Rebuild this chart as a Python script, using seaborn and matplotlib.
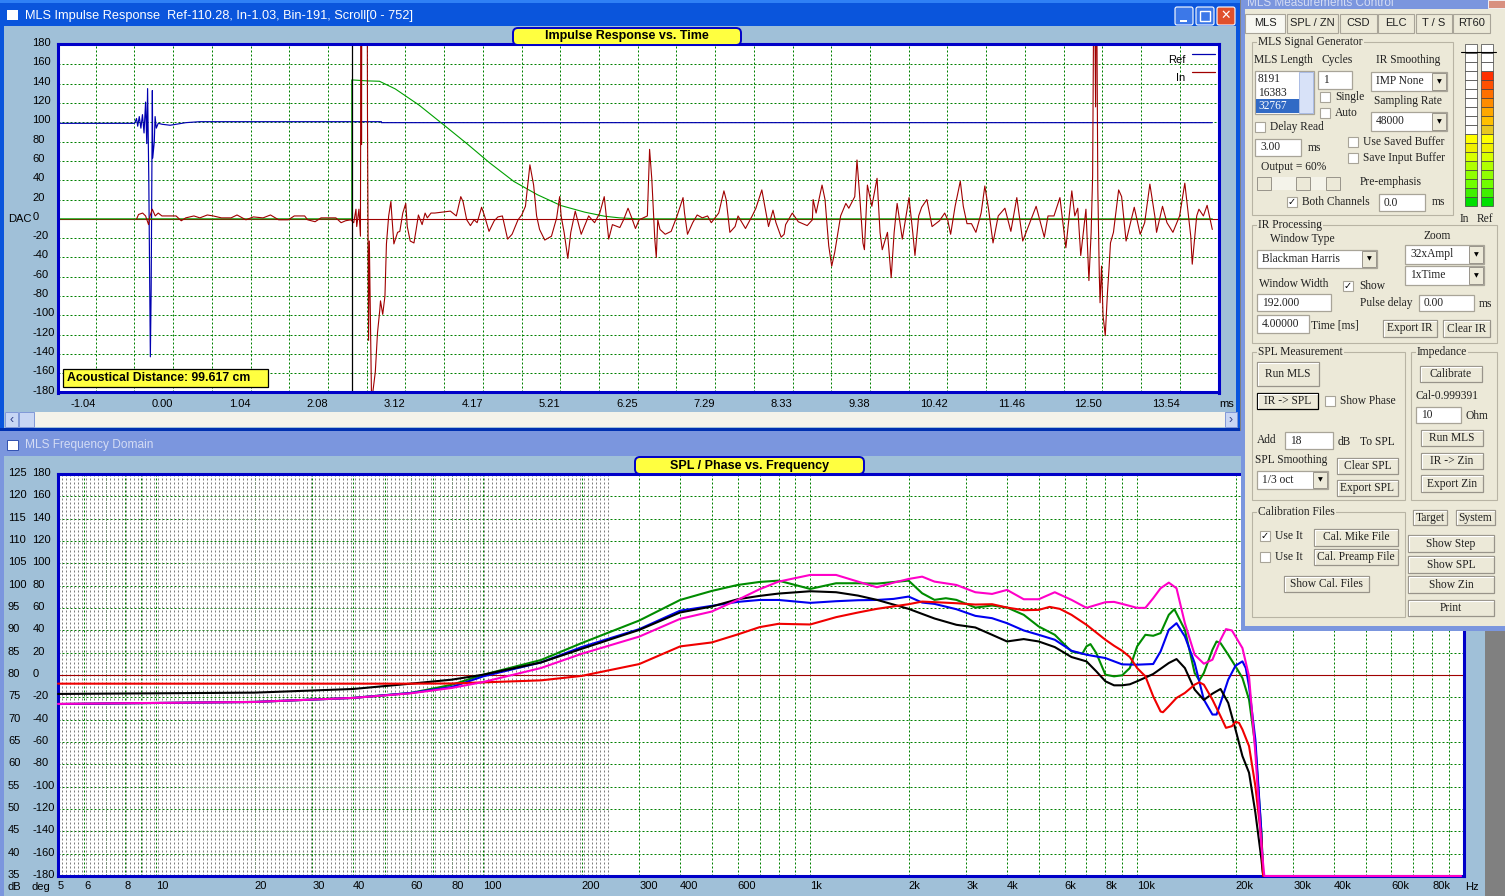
import numpy as np
import matplotlib
matplotlib.use('Agg')
import matplotlib.pyplot as plt
import seaborn as sns
from matplotlib.patches import Rectangle, FancyBboxPatch
from matplotlib.transforms import ScaledTranslation

sns.set_theme(style='white')
plt.rcParams['font.family'] = ['Liberation Sans', 'DejaVu Sans']

# ---- impulse response data (ms, DAC) ----
ref_t = [-1.555, -0.518, -0.492, -0.476, -0.455, -0.433, -0.412, -0.391, -0.370, -0.354, -0.343, -0.327,
         -0.306, -0.295, -0.279, -0.274, -0.253, -0.242, -0.226, -0.200, -0.146, -0.040, 0.172, 0.358,
         2.802, 2.802, 13.98]
ref_v = [99, 99, 104, 96, 106, 94, 108, 89, 121, 78, 135, 42,
         -143, -73, 133, 63, 80, 106, 94, 99, 98, 97, 99.7, 100.7,
         100.7, 99.7, 99.7]

win_t = [-1.555, 2.404, 2.404, 2.606, 2.776, 2.988, 3.307, 3.626, 3.945, 4.264, 4.583, 4.901, 5.22, 5.539,
         5.805, 6.007, 6.25, 13.98]
win_v = [0, 0, 144, 143, 142.6, 134.7, 118, 98.3, 78.4, 57.7, 38.8, 25, 13.7, 6.9,
         2.7, 1, 0, 0]

in_t = [-0.49, -0.465, -0.41, -0.37, -0.33, -0.31, -0.28, -0.24, -0.20, -0.15, -0.04, 0.04, 0.11, 0.17,
        0.28, 0.36, 0.46, 0.54, 0.65, 0.78, 0.86, 0.98, 1.08, 1.21, 1.31, 1.42, 1.55, 1.63, 1.77, 1.81,
        1.91, 1.99, 2.09, 2.19, 2.26, 2.32, 2.39, 2.43, 2.46, 2.47, 2.50, 2.52, 2.53, 2.535, 2.54, 2.61,
        2.615, 2.63, 2.64, 2.67, 2.72, 2.75, 2.78, 2.79, 2.82, 2.85, 2.87, 2.90, 2.93, 2.94, 2.97, 3.02,
        3.05, 3.09, 3.13, 3.15, 3.19, 3.24, 3.27, 3.30, 3.35, 3.39, 3.42, 3.47, 3.52, 3.63, 3.73, 3.81,
        3.87, 3.90, 3.95, 4.00, 4.05, 4.09, 4.15, 4.19, 4.25, 4.32, 4.37, 4.43, 4.50, 4.56, 4.64, 4.69,
        4.74, 4.80, 4.85, 4.89, 4.93, 5.00, 5.09, 5.16, 5.20, 5.22, 5.26, 5.31, 5.35, 5.41, 5.49, 5.59,
        5.67, 5.74, 5.80, 5.86, 5.91, 6.01, 6.06, 6.12, 6.17, 6.22, 6.27, 6.38, 6.41, 6.44, 6.48, 6.50,
        6.52, 6.55, 6.62, 6.70, 6.78, 6.86, 6.88, 6.92, 6.99, 7.05, 7.12, 7.19, 7.24, 7.34, 7.41, 7.44,
        7.49, 7.56, 7.60, 7.70, 7.79, 7.84, 7.92, 7.96, 8.01, 8.07, 8.11, 8.18, 8.22, 8.24, 8.33, 8.41,
        8.53, 8.60, 8.61, 8.65, 8.73, 8.77, 8.82, 8.86, 8.90, 8.98, 9.05, 9.09, 9.17, 9.20, 9.24, 9.28,
        9.30, 9.34, 9.40, 9.47, 9.51, 9.54, 9.61, 9.66, 9.70, 9.74, 9.81, 9.90, 9.95, 9.98, 10.03, 10.07,
        10.14, 10.21, 10.31, 10.38, 10.42, 10.46, 10.52, 10.59, 10.63, 10.68, 10.74, 10.80, 10.87, 10.92,
        10.97, 11.03, 11.10, 11.19, 11.27, 11.35, 11.43, 11.48, 11.61, 11.72, 11.77, 11.85, 11.93, 12.01,
        12.09, 12.13, 12.17, 12.21, 12.28, 12.32, 12.35, 12.37, 12.39, 12.41, 12.42, 12.44, 12.46, 12.47,
        12.49, 12.51, 12.54, 12.57, 12.59, 12.61, 12.65, 12.72, 12.76, 12.82, 12.93, 13.01, 13.07, 13.14,
        13.21, 13.23, 13.31, 13.37, 13.45, 13.54, 13.61, 13.66, 13.69, 13.71, 13.77, 13.80, 13.86, 13.91,
        13.98]
in_v = [0, 4.5, 6, 3, -6, 3, 10, 3, 6, 3, 3, 3, -2, 1,
        3, 1, 4, 3, 1, 1, 4, -1, 2, 1, 4, -1, -1, 3, 3, -1,
        -3, 1, 1, 1, -4, -2, -1, -4, 10, -8, 10, -18, 300, 77, 300, 300,
        106, -126, -23, -190, -159, -118, -95, -85, -99, -80, -26, 3, 18, 6, -26, -14,
        -13, 6, 16, -8, -23, -25, -11, 4, -6, 6, 1, 6, 6, 7, 8, 3,
        23, 18, -1, -7, -1, -4, 12, 3, -13, -2, 2, 3, -21, -16, -1, 4,
        13, 56, 35, 3, -11, -22, -18, 1, 23, 3, -14, -41, -14, 8, -16, 3,
        -4, 6, 23, -21, -6, -9, -1, 11, 1, -10, -1, 3, 72, 41, -21, -40,
        -1, -11, -16, -13, 3, 22, 6, -16, -4, 4, 1, 3, -4, 6, 29, 20,
        -14, -8, 3, -10, 3, 11, 30, 13, -8, 9, -4, -19, -16, -6, 6, -3,
        -7, -1, 20, 6, 35, 20, -28, -49, -35, 3, 16, 11, 23, 61, 20, -25,
        -32, 35, 13, 42, -14, -32, -14, -61, -14, 16, -21, 22, -14, -38, 3, 12,
        20, -8, -2, 6, -1, -16, 13, 39, 13, -5, -5, -14, 6, 34,
        10, -25, 3, 11, -13, 22, -23, -13, 13, -19, 3, 3, 22, -30,
        29, 3, 11, -38, 10, -64, -14, 44, 300, 116, 300, 30, -59, -87,
        -49, -100, -121, -76, -52, -25, -14, 30, 23, -23, 12, -16, -4, 36,
        1, -14, 13, -4, -14, 3, 37, 3, -18, -47, 3, 10, 3, 14,
        -11]

# ---- SPL data (Hz, dB) ----
low_f = [5, 20, 40, 60, 80, 100, 150, 200, 300, 400]

black_f = low_f + [500, 600, 700, 800, 1000, 1200, 1400, 1600, 2000, 2400, 2800, 3200, 3600, 4000, 4500, 5000,
                   5600, 6300, 7000, 7500, 8000, 8500, 9000, 9500, 10000, 11200, 12500, 13200, 14000, 15000,
                   16000, 17000, 18000, 19000, 20000, 21000, 22000, 23000, 24000, 24300]
black_db = [75.76, 76.05, 76.87, 78.06, 78.95, 80.07, 82.8, 85.87, 90.1, 94.0,
            95.33, 96.96, 97.71, 98.23, 98.75, 98.53, 97.78, 96.82, 94.81, 92.65, 91.24, 90.64, 89.0, 87.51, 88.04, 87.51,
            86.25, 84.02, 83.05, 80.82, 78.59, 77.69, 77.69, 77.92, 78.59, 80.22, 82.68, 83.57, 81.56, 76.73,
            74.42, 75.83, 76.87, 73.75, 67.8, 61.85, 58.12, 49.2, 38.8, 35]

blue_f = low_f + [500, 600, 700, 800, 1000, 1200, 1400, 1600, 1800, 2000, 2200, 2400, 2800, 3200, 3600, 4000,
                  4500, 5000, 5600, 6300, 7000, 8000, 9000, 10000, 11200, 11800, 12500, 13200, 14000, 15000,
                  16000, 17000, 17500, 18000, 19000, 20000, 21000, 21500, 22000, 23000, 24000, 24300]
blue_db = [73.5, 73.97, 74.87, 75.98, 77.3, 79.7, 82.8, 86.25, 90.27, 94.4,
           95.48, 96.37, 96.8, 96.8, 96.15, 96.52, 96.74, 96.8, 97.04, 97.56, 96.22, 95.92, 94.73, 93.24, 92.72, 91.6,
           89.97, 89.0, 87.89, 85.43, 84.54, 83.79, 82.38, 82.31, 82.46, 85.28, 90.12, 91.6, 88.63, 82.68,
           74.49, 71.15, 71.15, 73.75, 78.96, 82.08, 83.05, 81.56, 77.47, 65.57, 44.73, 35]

green_f = low_f + [500, 600, 700, 800, 1000, 1200, 1400, 1600, 2000, 2200, 2400, 2600, 2800, 3200, 3600, 4000,
                   4500, 5000, 5600, 6300, 6800, 7000, 7200, 7500, 8000, 8500, 9000, 9500, 10000, 10600, 11200,
                   11800, 12500, 13000, 14000, 15000, 15500, 16000, 17000, 17500, 18000, 19000, 20000, 21000,
                   22000, 23000, 24000, 24300]
green_db = [73.5, 73.97, 74.87, 75.98, 77.8, 80.07, 83.35, 87.15, 92.2, 96.8,
            98.82, 100.16, 100.83, 101.13, 99.27, 100.54, 100.54, 100.46, 101.13, 98.3, 96.82, 97.19, 96.82, 95.1, 95.55, 95.1,
            93.47, 90.86, 89.0, 85.28, 84.76, 86.4, 86.92, 84.91, 80.07, 79.7, 79.93, 81.56, 86.4, 89.0, 88.78,
            89.38, 93.47, 94.73, 90.12, 80.45, 78.81, 80.45, 85.65, 87.51, 87.14, 84.54, 81.93, 79.33,
            74.49, 64.08, 44.73, 35]

red_f = low_f + [500, 600, 700, 800, 1000, 1200, 1400, 1600, 2000, 2200, 2800, 3200, 3600, 4000, 4500, 5000,
                 5400, 5800, 6300, 7000, 8000, 8500, 9000, 9500, 10000, 10600, 11200, 11800, 12000, 12500, 13200,
                 14000, 15000, 15500, 16000, 17000, 18000, 18700, 19500, 20000, 20500, 21000, 22000, 23000,
                 24000, 24300]
red_db = [78.06, 78.06, 78.06, 78.06, 78.1, 78.35, 78.8, 79.8, 82.45, 86.4,
          87.29, 89.08, 90.71, 91.46, 91.31, 92.95, 93.99, 94.81, 95.85, 96.44, 96.07, 95.77, 95.85, 95.1, 94.51, 94.58,
          95.25, 94.81, 93.47, 91.24, 87.89, 86.55, 85.43, 84.02, 81.56, 79.7, 75.24, 71.82, 71.67, 73.0, 74.87,
          75.98, 77.84, 78.36, 77.84, 74.49, 70.77, 68.17, 68.54, 69.51, 69.29, 67.8, 64.08, 55.15,
          43.24, 35]

magenta_f = low_f + [500, 600, 700, 800, 1000, 1200, 1400, 1600, 1800, 2000, 2200, 2400, 2800, 3200, 3600, 4000,
                     4500, 5000, 5600, 6300, 7000, 8000, 8500, 9000, 10000, 10600, 11200, 11800, 12500, 13200,
                     14000, 15000, 16000, 17000, 18000, 18700, 19500, 20000, 21000, 22000, 23000, 24000, 24500,
                     98000]
magenta_db = [73.53, 73.97, 74.87, 75.9, 77.1, 78.44, 81.56, 84.75, 88.6, 92.57,
              94.21, 96.82, 99.2, 100.9, 102.4, 102.4, 100.91, 99.64, 100.68, 101.5, 102.02, 100.91, 100.16, 98.53, 98.15, 99.05,
              96.96, 96.96, 98.53, 96.82, 95.03, 96.3, 96.37, 95.92, 95.03, 95.03, 97.19, 99.42, 100.68, 99.42,
              91.6, 84.54, 82.53, 83.42, 87.89, 90.27, 89.97, 88.63, 86.03, 79.7, 62.59, 41.76, 35,
              35]

# ---- axis labels ----
time_labels = ['-1.04', '0.00', '1.04', '2.08', '3.12', '4.17', '5.21', '6.25', '7.29', '8.33', '9.38',
               '10.42', '11.46', '12.50', '13.54']
dac_ticks = list(range(180, -181, -20))
db_ticks = list(range(125, 34, -5))
deg_ticks = list(range(180, -181, -20))
freq_labels = {5: '5', 6: '6', 8: '8', 10: '10', 20: '20', 30: '30', 40: '40', 60: '60', 80: '80', 100: '100',
               200: '200', 300: '300', 400: '400', 600: '600', 1000: '1k', 2000: '2k', 3000: '3k', 4000: '4k',
               6000: '6k', 8000: '8k', 10000: '10k', 20000: '20k', 30000: '30k', 40000: '40k', 60000: '60k',
               80000: '80k'}

W, H = 1505, 896
PANEL = '#A0C0D8'
BEIGE = '#ECE9D8'
BORDER = '#0000C8'
GRID = '#008000'
DOTS = (0, (2, 2))
PX = 0.72

fig = plt.figure(figsize=(W / 100, H / 100), dpi=100, facecolor='#808080')


def pixel_axes(z):
    a = fig.add_axes([0, 0, 1, 1], zorder=z)
    a.set_xlim(0, W)
    a.set_ylim(H, 0)
    a.axis('off')
    a.patch.set_alpha(0)
    return a


def plot_axes(left, top, right, bottom):
    a = fig.add_axes([left / W, 1 - bottom / H, (right - left) / W, (bottom - top) / H], zorder=2)
    a.set_facecolor('white')
    for s in a.spines.values():
        s.set_color(BORDER)
        s.set_linewidth(2.2)
    return a


def nudge_up(labels, px=3):
    for lab in labels:
        lab.set_transform(lab.get_transform() + ScaledTranslation(0, px / 100, fig.dpi_scale_trans))


# ---- windows behind the plots ----
back = pixel_axes(0)
back.add_patch(Rectangle((0, 0), 1240, 432, fc='#0A55DC', ec='none'))
back.add_patch(Rectangle((0, 0), 1240, 3, fc='#2F80F5', ec='none'))
back.add_patch(Rectangle((4, 26), 1232, 402, fc=PANEL, ec='none'))
back.add_patch(Rectangle((0, 428), 1240, 3, fc='#0030B0', ec='none'))
back.add_patch(Rectangle((0, 431), 1485, 465, fc='#7B96DE', ec='none'))
back.add_patch(Rectangle((4, 456), 1481, 440, fc=PANEL, ec='none'))
back.add_patch(Rectangle((5, 412), 1227, 15, fc='#F4F3EA', ec='none'))
back.add_patch(Rectangle((5, 412), 13, 15, fc='#C8D6F4', ec='#8098D8', lw=0.7))
back.add_patch(Rectangle((19, 412), 15, 15, fc='#C8D6F4', ec='#8098D8', lw=0.7))
back.add_patch(Rectangle((1225, 412), 12, 15, fc='#C8D6F4', ec='#8098D8', lw=0.7))
back.text(11.5, 419.5, '‹', ha='center', va='center', fontsize=9, color='#30408A')
back.text(1231, 419.5, '›', ha='center', va='center', fontsize=9, color='#30408A')
back.add_patch(Rectangle((7, 10), 11, 10, fc='white', ec='none'))
back.add_patch(Rectangle((7, 440), 11, 10, fc='white', ec='#3050B0', lw=0.7))
back.text(25, 16, 'MLS Impulse Response  Ref-110.28, In-1.03, Bin-191, Scroll[0 - 752]', color='white',
          fontsize=9.2, va='center', ha='left')
back.text(25, 445, 'MLS Frequency Domain', color='#D4DCF4', fontsize=8.6, va='center', ha='left')
for x0, col in [(1175, '#3C78E8'), (1196, '#3C78E8'), (1217, '#E0502C')]:
    back.add_patch(FancyBboxPatch((x0, 7), 18, 18, boxstyle='round,pad=0,rounding_size=2', fc=col, ec='white', lw=0.8))
back.add_patch(Rectangle((1180, 20), 7, 2, fc='white', ec='none'))
back.add_patch(Rectangle((1200, 11), 10, 10, fc='none', ec='white', lw=1))
back.text(1226, 16, '✕', color='white', fontsize=9, ha='center', va='center', fontweight='bold')
back.text(8, 219, 'DAC', fontsize=8, va='center', color='black')
back.text(1219, 404, 'ms', fontsize=8, va='center', color='black')
back.text(8, 887, 'dB', fontsize=8, va='center', color='black')
back.text(32, 887, 'deg', fontsize=8, va='center', color='black')
back.text(1465, 887, 'Hz', fontsize=8, va='center', color='black')

# ---- impulse response ----
ax1 = plot_axes(57.5, 44.5, 1219, 392.5)
sns.lineplot(x=ref_t, y=ref_v, ax=ax1, color='#0000B0', lw=0.85, sort=False, estimator=None, errorbar=None, legend=False)
ax1.axhline(0, color='#A00000', lw=0.8)
sns.lineplot(x=win_t, y=win_v, ax=ax1, color='#00A000', lw=0.8, sort=False, estimator=None, errorbar=None, legend=False)
sns.lineplot(x=in_t, y=in_v, ax=ax1, color='#A00000', lw=0.8, sort=False, estimator=None, errorbar=None, legend=False)
ax1.axvline(2.404, color='black', lw=0.9)
ax1.set_xlim(-1.555, 14.07)
ax1.set_ylim(-179, 180.7)
grid_t = [-1.0417 + i * 0.5208 for i in range(29)]
ax1.set_xticks(grid_t, [time_labels[i // 2] if i % 2 == 0 else '' for i in range(29)])
ax1.set_yticks(dac_ticks, [str(v) for v in dac_ticks])
ax1.tick_params(axis='x', length=0, pad=4.5, labelsize=8, labelcolor='black')
ax1.tick_params(axis='y', length=0, pad=18, labelsize=8, labelcolor='black')
for lab in ax1.get_xticklabels():
    lab.set_ha('right')
for lab in ax1.get_yticklabels():
    lab.set_ha('left')
nudge_up(ax1.get_yticklabels())
ax1.grid(True, color=GRID, lw=PX, ls=DOTS)
ax1.set_axisbelow(True)
ax1.plot([0.9768, 0.9966], [0.9727, 0.9727], color='#0000B0', lw=0.9, transform=ax1.transAxes)
ax1.plot([0.9768, 0.9966], [0.921, 0.921], color='#A00000', lw=0.9, transform=ax1.transAxes)
ax1.text(0.9708, 0.955, 'Ref', transform=ax1.transAxes, fontsize=8, ha='right', va='center', color='black')
ax1.text(0.9708, 0.904, 'In', transform=ax1.transAxes, fontsize=8, ha='right', va='center', color='black')

# ---- SPL / phase ----
ax2 = plot_axes(58, 474, 1464, 876)
ax2.set_xscale('log')
ax2.set_xlim(5, 100000)
ax2.set_ylim(35, 125)
fine_lines = np.geomspace(5, 241, 138)
ax2.vlines(fine_lines, 35, 125, color='#808080', lw=PX, linestyles=[DOTS], zorder=1)
grid_f = [m * d for d in (1, 10, 100, 1000, 10000) for m in range(1, 10) if 5 <= m * d <= 90000]
ax2.set_xticks(grid_f, [freq_labels.get(f, '') for f in grid_f])
ax2.minorticks_off()
ax2.set_yticks(db_ticks, [str(v) for v in db_ticks])
ax2.tick_params(axis='x', length=0, pad=3.5, labelsize=8, labelcolor='black')
ax2.tick_params(axis='y', length=0, pad=36, labelsize=8, labelcolor='black')
for lab in ax2.get_xticklabels():
    lab.set_ha('left')
for lab in ax2.get_yticklabels():
    lab.set_ha('left')
nudge_up(ax2.get_yticklabels(), 2)
ax2.grid(True, color=GRID, lw=PX, ls=DOTS)
ax2.set_axisbelow(True)
phase = ax2.secondary_yaxis('left', functions=(lambda d: (d - 80) * 4, lambda p: p / 4 + 80))
phase.set_yticks(deg_ticks, [str(v) for v in deg_ticks])
phase.tick_params(axis='y', length=0, pad=18.5, labelsize=8, labelcolor='black')
phase.spines['left'].set_visible(False)
for lab in phase.get_yticklabels():
    lab.set_ha('left')
nudge_up(phase.get_yticklabels(), 2)
ax2.axhline(80, color='#A00000', lw=0.8, zorder=2)
for f_vals, db_vals, col in [(green_f, green_db, '#008C00'), (blue_f, blue_db, '#0000F0'),
                             (black_f, black_db, 'black'), (red_f, red_db, '#F00000'),
                             (magenta_f, magenta_db, '#FF00C8')]:
    sns.lineplot(x=f_vals, y=db_vals, ax=ax2, color=col, lw=1.5, sort=False, estimator=None, errorbar=None,
                 legend=False, clip_on=False, zorder=3)

# ---- things drawn over the plots ----
top = pixel_axes(4)


def pill(x0, y0, x1, y1, txt):
    top.add_patch(FancyBboxPatch((x0, y0), x1 - x0, y1 - y0, boxstyle='round,pad=0,rounding_size=5',
                                 fc='#FFFF40', ec=BORDER, lw=1.4))
    top.text((x0 + x1) / 2, (y0 + y1) / 2, txt, ha='center', va='center', fontsize=9, fontweight='bold', color='black')


pill(513, 28, 741, 45, 'Impulse Response vs. Time')
pill(635, 457, 864, 474, 'SPL / Phase vs. Frequency')

top.add_patch(Rectangle((63, 369), 205, 18, fc='#FFFF40', ec='black', lw=0.9))
top.text(67, 378, 'Acoustical Distance: 99.617 cm', fontsize=8.8, fontweight='bold', ha='left', va='center', color='black')

# control window
top.add_patch(Rectangle((1241, 0), 264, 631, fc='#7B96DE', ec='none'))
top.add_patch(Rectangle((1245, 9), 260, 617, fc=BEIGE, ec='none'))
top.text(1247, 3, 'MLS Measurements Control', fontsize=8.5, color='#D4DCF4', va='center', ha='left')
top.add_patch(Rectangle((1488, 0), 17, 8, fc='#D89080', ec='white', lw=0.6))


def ftxt(x, y, s, **kw):
    kw.setdefault('ha', 'left')
    top.text(x, y, s, family=['Liberation Serif', 'DejaVu Sans'], fontsize=8.3, va='center', color='#202020', **kw)


def group(x0, y0, x1, y1, title):
    top.add_patch(Rectangle((x0, y0), x1 - x0, y1 - y0, fc='none', ec='#B8B4A4', lw=0.8))
    top.text(x0 + 6, y0, title, family=['Liberation Serif', 'DejaVu Sans'], fontsize=8.3, va='center', color='#202020',
             bbox=dict(fc=BEIGE, ec='none', pad=0.8))


def button(x0, y0, x1, y1, txt, edge='#98948A'):
    top.add_patch(Rectangle((x0, y0), x1 - x0, y1 - y0, fc=BEIGE, ec=edge, lw=0.9))
    top.plot([x0 + 1, x0 + 1, x1 - 1], [y1 - 1, y0 + 1, y0 + 1], color='white', lw=0.8)
    ftxt((x0 + x1) / 2, (y0 + y1) / 2, txt, ha='center')


def edit(x0, y0, x1, y1, txt):
    top.add_patch(Rectangle((x0, y0), x1 - x0, y1 - y0, fc='white', ec='#A8A498', lw=0.9))
    ftxt(x0 + 5, (y0 + y1) / 2, txt)


def combo(x0, y0, x1, y1, txt):
    edit(x0, y0, x1, y1, txt)
    top.add_patch(Rectangle((x1 - 15, y0 + 1), 14, y1 - y0 - 2, fc=BEIGE, ec='#98948A', lw=0.7))
    top.text(x1 - 8, (y0 + y1) / 2, '▼', ha='center', va='center', fontsize=4.5, color='black', family='DejaVu Sans')


def check(x0, y0, txt, tx, on=False):
    top.add_patch(Rectangle((x0, y0), 10, 10, fc='white', ec='#A8A498', lw=0.8))
    if on:
        top.text(x0 + 5, y0 + 5, '✓', ha='center', va='center', fontsize=7, fontweight='bold', color='black',
                 family='DejaVu Sans')
    ftxt(tx, y0 + 5, txt)


# tabs
for x0, x1, tab in [(1245, 1285, 'MLS'), (1287, 1338, 'SPL / ZN'), (1340, 1377, 'CSD'), (1378, 1414, 'ELC'),
                    (1416, 1452, 'T / S'), (1453, 1490, 'RT60')]:
    top.add_patch(Rectangle((x0, 14), x1 - x0, 19, fc='#F8F8F2' if tab == 'MLS' else BEIGE, ec='#A8A498', lw=0.8))
    top.text((x0 + x1) / 2, 23, tab, fontsize=8, ha='center', va='center', color='#202020')

group(1252, 42, 1453, 215, 'MLS Signal Generator')
ftxt(1254, 60, 'MLS Length')
ftxt(1322, 60, 'Cycles')
ftxt(1376, 60, 'IR Smoothing')
top.add_patch(Rectangle((1255, 71), 59, 43, fc='white', ec='#A8A498', lw=0.9))
top.add_patch(Rectangle((1256, 99), 43, 14, fc='#316AC5', ec='none'))
ftxt(1258, 79, '8191')
ftxt(1258, 93, '16383')
top.text(1258, 106, '32767', family='Liberation Serif', fontsize=8.3, va='center', color='white')
top.add_patch(Rectangle((1299, 72), 14, 41, fc='#D8E2F8', ec='#A0B4E0', lw=0.6))
edit(1318, 71, 1352, 89, '1')
check(1320, 92, 'Single', 1335)
check(1320, 108, 'Auto', 1335)
combo(1371, 72, 1447, 91, 'IMP None')
ftxt(1374, 101, 'Sampling Rate')
combo(1371, 112, 1447, 131, '48000')
check(1255, 122, 'Delay Read', 1270)
edit(1255, 139, 1301, 156, '3.00')
ftxt(1308, 148, 'ms')
check(1348, 137, 'Use Saved Buffer', 1363)
check(1348, 153, 'Save Input Buffer', 1363)
ftxt(1261, 167, 'Output = 60%')
top.add_patch(Rectangle((1257, 177), 83, 13, fc='#F4F3EA', ec='none'))
for x0 in (1257, 1296, 1326):
    top.add_patch(Rectangle((x0, 177), 14, 13, fc=BEIGE, ec='#98948A', lw=0.7))
ftxt(1360, 182, 'Pre-emphasis')
check(1287, 197, 'Both Channels', 1302, on=True)
edit(1379, 194, 1425, 211, '0.0')
ftxt(1432, 202, 'ms')

# level meters, bottom cell first
in_cells = ['#00E000', '#40F000', '#70FF00', '#90FF00', '#B0FF00', '#D8FF00', '#F0F000', '#FFFF00']
ref_cells = in_cells + ['#E8C820', '#FFC000', '#FFA800', '#FF8C00', '#FF7000', '#FF5000', '#FF3000']
for x0, cells in [(1465, in_cells), (1481, ref_cells)]:
    for i in range(18):
        col = cells[i] if i < len(cells) else 'white'
        top.add_patch(Rectangle((x0, 197 - i * 9), 11.5, 9, fc=col, ec='#404040', lw=0.5))
top.plot([1461, 1496], [52, 52], color='black', lw=0.8)
ftxt(1460, 219, 'In')
ftxt(1477, 219, 'Ref')

group(1252, 225, 1497, 343, 'IR Processing')
ftxt(1270, 239, 'Window Type')
ftxt(1423, 236, 'Zoom')
combo(1257, 250, 1377, 268, 'Blackman Harris')
combo(1405, 245, 1484, 264, '32xAmpl')
combo(1405, 266, 1484, 285, '1xTime')
ftxt(1259, 284, 'Window Width')
check(1343, 281, 'Show', 1359, on=True)
edit(1257, 294, 1331, 311, '192.000')
ftxt(1360, 303, 'Pulse delay')
edit(1419, 295, 1474, 311, '0.00')
ftxt(1479, 304, 'ms')
edit(1257, 315, 1309, 333, '4.00000')
ftxt(1311, 325, 'Time [ms]')
button(1383, 320, 1437, 337, 'Export IR')
button(1443, 320, 1490, 337, 'Clear IR')

group(1252, 352, 1405, 500, 'SPL Measurement')
button(1257, 362, 1319, 386, 'Run MLS')
button(1257, 393, 1318, 409, 'IR -> SPL', edge='black')
check(1325, 396, 'Show Phase', 1340)
ftxt(1257, 440, 'Add')
edit(1285, 432, 1333, 449, '18')
ftxt(1338, 442, 'dB')
ftxt(1360, 442, 'To SPL')
ftxt(1255, 460, 'SPL Smoothing')
combo(1257, 471, 1328, 489, '1/3 oct')
button(1337, 458, 1398, 474, 'Clear SPL')
button(1337, 480, 1398, 496, 'Export SPL')

group(1411, 352, 1497, 500, 'Impedance')
button(1420, 366, 1482, 382, 'Calibrate')
ftxt(1416, 396, 'Cal-0.999391')
edit(1416, 407, 1461, 423, '10')
ftxt(1465, 416, 'Ohm')
button(1421, 430, 1483, 446, 'Run MLS')
button(1421, 453, 1483, 469, 'IR -> Zin')
button(1421, 475, 1483, 492, 'Export Zin')

group(1252, 512, 1405, 617, 'Calibration Files')
check(1260, 531, 'Use It', 1275, on=True)
check(1260, 552, 'Use It', 1275)
button(1314, 529, 1398, 546, 'Cal. Mike File')
button(1314, 549, 1398, 565, 'Cal. Preamp File')
button(1284, 576, 1369, 592, 'Show Cal. Files')
button(1413, 510, 1447, 525, 'Target')
button(1456, 510, 1495, 525, 'System')
button(1408, 535, 1494, 552, 'Show Step')
button(1408, 556, 1494, 573, 'Show SPL')
button(1408, 576, 1494, 593, 'Show Zin')
button(1408, 600, 1494, 616, 'Print')

fig.savefig('out.png', dpi=100, facecolor=fig.get_facecolor())
